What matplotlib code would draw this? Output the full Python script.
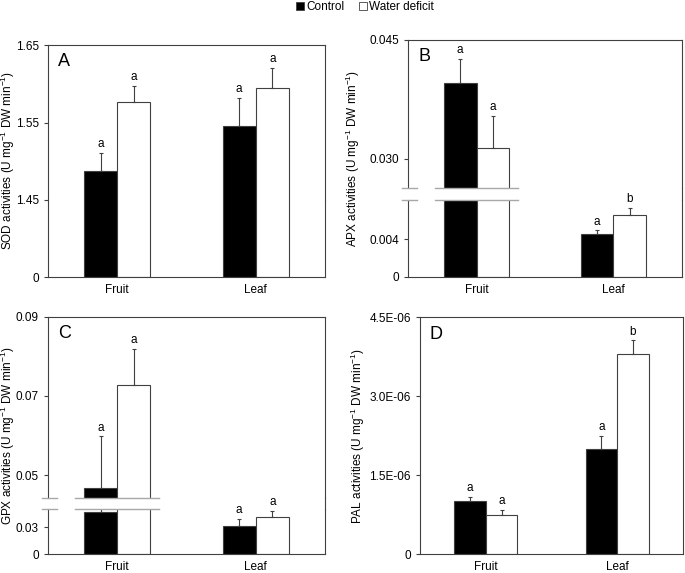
import numpy as np
import matplotlib.pyplot as plt
from matplotlib.patches import Patch
from matplotlib.lines import Line2D

plt.rcParams['font.family'] = ['Liberation Sans', 'DejaVu Sans']
plt.rcParams['mathtext.default'] = 'regular'
plt.rcParams['font.size'] = 8.5

# ---------------- data ----------------
categories = ['Fruit', 'Leaf']

sod_control = [1.487, 1.545]
sod_control_err = [0.024, 0.037]
sod_water = [1.577, 1.595]
sod_water_err = [0.020, 0.025]
sod_letters = ['a', 'a', 'a', 'a']   # control fruit, water fruit, control leaf, water leaf

apx_control = [0.0396, 0.00453]
apx_control_err = [0.0030, 0.00043]
apx_water = [0.0314, 0.00662]
apx_water_err = [0.0040, 0.00075]
apx_letters = ['a', 'a', 'a', 'b']

gpx_control = [0.0468, 0.0314]
gpx_control_err = [0.0130, 0.0082]
gpx_water = [0.0727, 0.0411]
gpx_water_err = [0.0092, 0.0073]
gpx_letters = ['a', 'a', 'a', 'a']

pal_control = [1.006e-6, 2.00e-6]
pal_control_err = [0.08e-6, 0.25e-6]
pal_water = [0.746e-6, 3.80e-6]
pal_water_err = [0.095e-6, 0.26e-6]
pal_letters = ['a', 'a', 'a', 'b']

# ---------------- figure setup ----------------
W, H = 685, 573
fig = plt.figure(figsize=(W / 100, H / 100), dpi=100)

spine_col = '#404040'
break_col = '#a8a8a8'
bw = 0.24


def rect(left, right, top, bottom):
    # pixel box -> figure fraction
    return [left / W, 1 - bottom / H, (right - left) / W, (bottom - top) / H]


def style_ax(ax, ylim, ticks, labels, show_x):
    ax.set_xlim(-0.5, 1.5)
    ax.set_ylim(*ylim)
    ax.set_yticks(ticks)
    ax.set_yticklabels(labels)
    for s in ax.spines.values():
        s.set_color(spine_col)
        s.set_linewidth(0.8)
    ax.tick_params(axis='y', direction='out', length=3, width=0.8, color=spine_col, pad=3.5)
    if show_x:
        ax.set_xticks(range(len(categories)))
        ax.set_xticklabels(categories)
        ax.tick_params(axis='x', length=0, pad=5)
    else:
        ax.set_xticks([])


def draw_bars(axes, control, c_err, water, w_err, letters):
    # axes[0] is the lowest segment; a bar whose top fits there is drawn only there
    lo_top = axes[0].get_ylim()[1]
    x = np.arange(len(categories))
    bars = []
    for i in range(len(categories)):
        bars.append((x[i] - bw / 2, control[i], c_err[i], 'black', letters[2 * i]))
        bars.append((x[i] + bw / 2, water[i], w_err[i], 'white', letters[2 * i + 1]))
    for xx, val, err, col, lt in bars:
        top = val + err
        targets = axes[:1] if top <= lo_top else axes
        for ax in targets:
            ax.bar(xx, val, bw, color=col, edgecolor=spine_col, linewidth=0.8)
            ax.errorbar(xx, val, yerr=[[0], [err]], fmt='none', ecolor=spine_col,
                        elinewidth=0.8, capsize=1.6, capthick=0.8)
        target = axes[0]
        for ax in targets:
            lo, hi = ax.get_ylim()
            if lo <= top <= hi:
                target = ax
        target.annotate(lt, (xx, top), xytext=(0, 2), textcoords='offset points',
                        ha='center', va='bottom', fontsize=8.5)


def panel_letter(ax, letter):
    ax.annotate(letter, (0, 1), xycoords='axes fraction', xytext=(7, -6),
                textcoords='offset points', ha='left', va='top', fontsize=13)


def broken_marks(left, right, gap_top, gap_bottom):
    # gap lines at the left spine and across the fruit bars, plus the unbroken right spine
    fx = lambda v: left + (v + 0.5) / 2 * (right - left)
    for yy in (gap_top, gap_bottom):
        for x0, x1 in ((left - 6, left + 9), (fx(-bw - 0.065), fx(bw + 0.065))):
            fig.add_artist(Line2D([x0 / W, x1 / W], [1 - yy / H, 1 - yy / H],
                                  color=break_col, linewidth=1.0))
    fig.add_artist(Line2D([right / W, right / W], [1 - gap_bottom / H, 1 - gap_top / H],
                          color=spine_col, linewidth=0.8))


def split_axes(left, right, top, bottom, split_lo, split_hi):
    ax_hi = fig.add_axes(rect(left, right, top, split_hi))
    ax_lo = fig.add_axes(rect(left, right, split_lo, bottom))
    ax_hi.spines['bottom'].set_visible(False)
    ax_lo.spines['top'].set_visible(False)
    return ax_lo, ax_hi


# ---------------- panel A (SOD) ----------------
a_lo, a_hi = split_axes(48, 325, 45, 277, 200, 200)
style_ax(a_lo, (0, 1.45), [0], ['0'], True)
style_ax(a_hi, (1.45, 1.65), [1.45, 1.55, 1.65], ['1.45', '1.55', '1.65'], False)
draw_bars([a_lo, a_hi], sod_control, sod_control_err, sod_water, sod_water_err, sod_letters)
panel_letter(a_hi, 'A')

# ---------------- panel B (APX) ----------------
b_lo, b_hi = split_axes(408.3, 681.7, 40, 276.7, 200, 188.3)
style_ax(b_lo, (0, 0.0082), [0, 0.004], ['0', '0.004'], True)
style_ax(b_hi, (0.0263, 0.045), [0.030, 0.045], ['0.030', '0.045'], False)
draw_bars([b_lo, b_hi], apx_control, apx_control_err, apx_water, apx_water_err, apx_letters)
panel_letter(b_hi, 'B')
broken_marks(408.3, 681.7, 188.3, 200)

# ---------------- panel C (GPX) ----------------
c_lo, c_hi = split_axes(48, 325, 316.7, 554.3, 509.3, 497.7)
style_ax(c_lo, (0, 0.05), [0, 0.03], ['0', '0.03'], True)
style_ax(c_hi, (0.0443, 0.09), [0.05, 0.07, 0.09], ['0.05', '0.07', '0.09'], False)
draw_bars([c_lo, c_hi], gpx_control, gpx_control_err, gpx_water, gpx_water_err, gpx_letters)
panel_letter(c_hi, 'C')
broken_marks(48, 325, 497.7, 509.3)

# ---------------- panel D (PAL) ----------------
d_ax = fig.add_axes(rect(420, 683, 317.3, 554.3))
style_ax(d_ax, (0, 4.5e-6), [0, 1.5e-6, 3.0e-6, 4.5e-6], ['0', '1.5E-06', '3.0E-06', '4.5E-06'], True)
draw_bars([d_ax], pal_control, pal_control_err, pal_water, pal_water_err, pal_letters)
panel_letter(d_ax, 'D')

# ---------------- y labels ----------------
unit = ' activities (U mg$^{-1}$ DW min$^{-1}$)'
for name, xp, y0, y1 in (('SOD', 8, 45, 277), ('APX', 353, 40, 276.7),
                         ('GPX', 8, 316.7, 554.3), ('PAL', 358, 317.3, 554.3)):
    fig.text(xp / W, 1 - (y0 + y1) / 2 / H, name + unit, rotation=90,
             ha='center', va='center', fontsize=8.5)

# ---------------- legend ----------------
handles = [Patch(facecolor='black', edgecolor=spine_col, linewidth=0.6, label='Control'),
           Patch(facecolor='white', edgecolor=spine_col, linewidth=0.6, label='Water deficit')]
fig.legend(handles=handles, loc='center', bbox_to_anchor=(365 / W, 1 - 7 / H), ncol=2,
           frameon=False, handlelength=0.7, handleheight=0.7, handletextpad=0.2,
           columnspacing=1.2, fontsize=8.5, borderpad=0)

fig.savefig('out.png', dpi=100)
